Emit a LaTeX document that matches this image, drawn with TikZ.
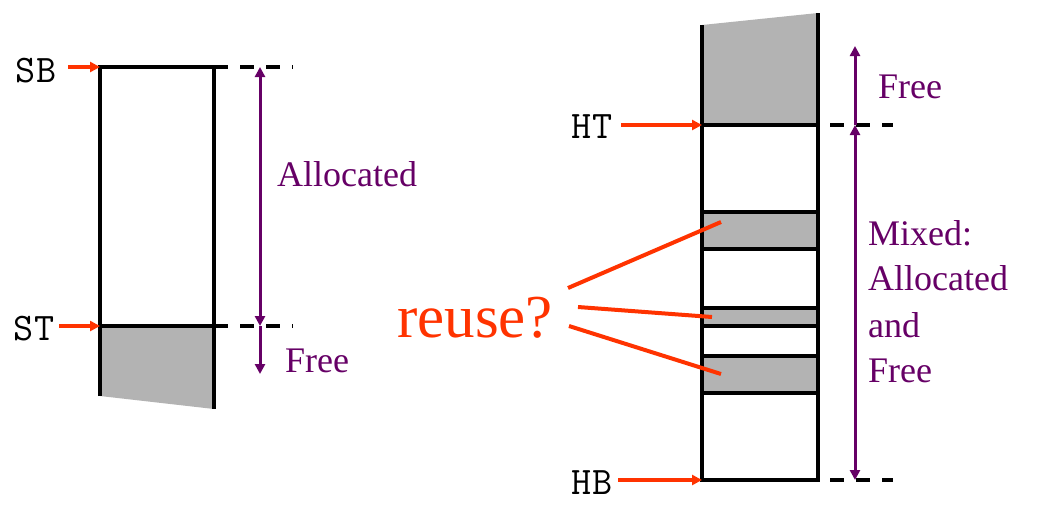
\documentclass[tikz,border=0pt]{standalone}
\usepackage{fontspec}
\setmainfont{Liberation Serif}
\newfontfamily\labmono{Latin Modern Mono}[LetterSpace=4]
\usetikzlibrary{arrows.meta}
\definecolor{redarr}{HTML}{FF3300}
\definecolor{purp}{HTML}{660066}
\definecolor{blockgray}{HTML}{B3B3B3}
\tikzset{
  wall/.style={line width=4pt, black},
  dashguide/.style={line width=4pt, black, dash pattern=on 14pt off 12pt},
  ptr/.style={line width=3.5pt, redarr, -{Triangle[length=10pt,width=10pt]}},
  reuseline/.style={line width=4pt, redarr},
  span/.style={line width=3pt, purp, {Triangle[length=10pt,width=10pt]}-{Triangle[length=10pt,width=10pt]}},
  spanone/.style={line width=3pt, purp, -{Triangle[length=10pt,width=10pt]}},
  lab/.style={inner sep=0pt, font=\labmono\fontsize{39}{39}\selectfont},
  purptext/.style={inner sep=0pt, text=purp, font=\fontsize{36}{46}\selectfont},
}
\begin{document}
\begin{tikzpicture}[x=1pt,y=-1pt]
\useasboundingbox (0,0) rectangle (1049,507);

% ---------- left stack ----------
\coordinate (sb) at (100,67);
\coordinate (st) at (100,326);
\coordinate (sbr) at (214,67);
\coordinate (str) at (214,326);
\fill[blockgray] (100,326) -- (214,326) -- (214,409) -- (100,396) -- cycle;
\draw[wall] (100,396) -- (sb) -- (sbr) -- (214,409);
\draw[wall] (st) -- (str);
\coordinate (sbd) at (293,67);
\coordinate (std) at (293,326);
\draw[dashguide] (sbr) -- (sbd);
\draw[dashguide] (str) -- (std);

\node[lab, anchor=base west] (SB) at (15,82) {SB};
\node[lab, anchor=base west] (ST) at (13,340) {ST};
\coordinate (sbs) at (68,67);
\coordinate (sts) at (59,326);
\draw[ptr] (sbs) -- (sb);
\draw[ptr] (sts) -- (st);

\coordinate (la1) at (260,67);
\coordinate (la2) at (260,326);
\coordinate (la3) at (260,374);
\draw[span] (la1) -- (la2);
\draw[spanone] (la2) -- (la3);
\node[purptext, anchor=base west] (alloc) at (277,186) {Allocated};
\node[purptext, anchor=base west] (freeL) at (285,372) {Free};

% ---------- right heap ----------
\fill[blockgray] (702,25) -- (818,13) -- (818,125) -- (702,125) -- cycle;
\fill[blockgray] (702,212) rectangle (818,249);
\fill[blockgray] (702,308) rectangle (818,326);
\fill[blockgray] (702,356) rectangle (818,393);
\coordinate (ht) at (702,125);
\coordinate (hb) at (702,480);
\coordinate (htr) at (818,125);
\coordinate (hbr) at (818,480);
\draw[wall] (702,25) -- (hb) -- (hbr) -- (818,13);
\foreach \yy in {125,212,249,308,326,356,393}
  \draw[wall] (702,\yy) -- (818,\yy);
\coordinate (htd) at (893,125);
\coordinate (hbd) at (893,480);
\draw[dashguide, dash phase=14pt] (htr) -- (htd);
\draw[dashguide, dash phase=14pt] (hbr) -- (hbd);

\node[lab, anchor=base west] (HT) at (571,138) {HT};
\node[lab, anchor=base west] (HB) at (571,494) {HB};
\coordinate (hts) at (621,125);
\coordinate (hbs) at (618,480);
\draw[ptr] (hts) -- (ht);
\draw[ptr] (hbs) -- (hb);

\coordinate (ra0) at (855,46);
\coordinate (ra1) at (855,125);
\coordinate (ra2) at (855,480);
\draw[spanone] (ra1) -- (ra0);
\draw[span] (ra1) -- (ra2);
\node[purptext, anchor=base west] (freeR) at (878,98) {Free};
\node[purptext, anchor=base west] (mix1) at (868,245) {Mixed:};
\node[purptext, anchor=base west] (mix2) at (868,290) {Allocated};
\node[purptext, anchor=base west] (mix3) at (868,337) {and};
\node[purptext, anchor=base west] (mix4) at (868,382) {Free};

% ---------- reuse ----------
\node[inner sep=0pt, anchor=base west, text=redarr, font=\fontsize{61}{61}\selectfont] (reuse) at (397,337) {reuse?};
\coordinate (r1s) at (568,288);
\coordinate (r2s) at (578,307);
\coordinate (r3s) at (569,326);
\coordinate (r1e) at (721,222);
\coordinate (r2e) at (712,317);
\coordinate (r3e) at (721,374);
\draw[reuseline] (r1s) -- (r1e);
\draw[reuseline] (r2s) -- (r2e);
\draw[reuseline] (r3s) -- (r3e);
\end{tikzpicture}
\end{document}
